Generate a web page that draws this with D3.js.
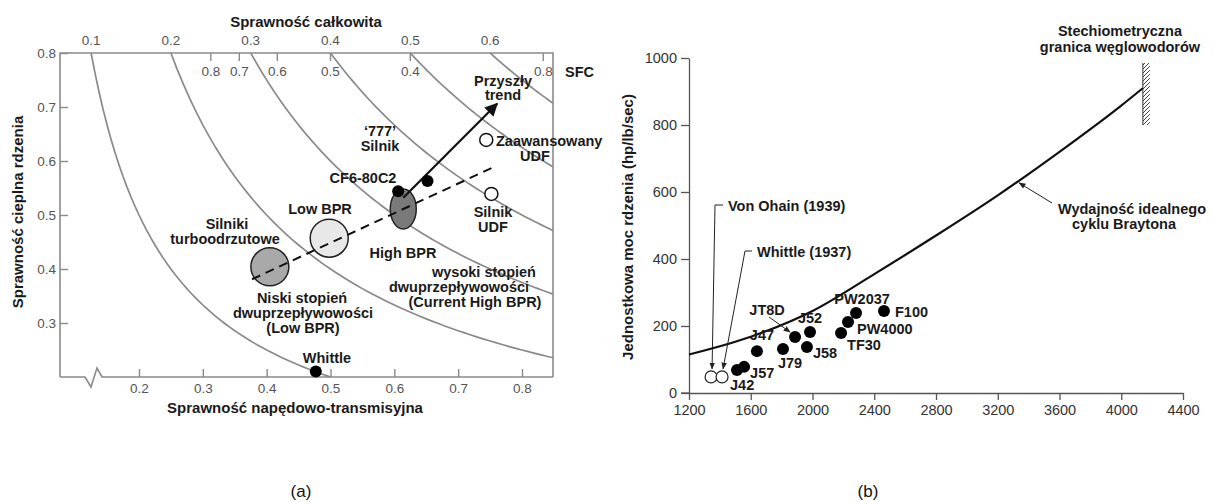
<!DOCTYPE html>
<html>
<head>
<meta charset="utf-8">
<script src="https://cdn.jsdelivr.net/npm/d3@7"></script>
<style>
  body { margin: 0; background: #fff; }
  text { font-family: "Liberation Sans", Arial, Helvetica, sans-serif; }
</style>
</head>
<body>
<div id="chart"></div>
<script>
// ---------- panel (a) data ----------
var overallEff = [0.1, 0.2, 0.3, 0.4, 0.5, 0.6];
var sfcValues = [0.8, 0.7, 0.6, 0.5, 0.4, 0.3];
var sfcLabels = ["0.8", "0.7", "0.6", "0.5", "0.4", "0.8"];
var propTicks = [0.2, 0.3, 0.4, 0.5, 0.6, 0.7, 0.8];
var thermTicks = [0.3, 0.4, 0.5, 0.6, 0.7, 0.8];

var groupNames = ["turbo", "low", "high"];
var groupProp = [0.405, 0.498, 0.614];
var groupTherm = [0.404, 0.457, 0.511];

var pointNames = ["CF6-80C2", "777", "Whittle"];
var pointProp = [0.606, 0.652, 0.477];
var pointTherm = [0.544, 0.563, 0.21];

var udfNames = ["Zaawansowany UDF", "Silnik UDF"];
var udfProp = [0.744, 0.752];
var udfTherm = [0.639, 0.539];

var trendProp = [0.377, 0.756];
var trendTherm = [0.381, 0.589];
var futureProp = [0.614, 0.761];
var futureTherm = [0.532, 0.706];

// ---------- panel (b) data ----------
var engines = ["J42", "J57", "J47", "J79", "JT8D", "J52", "J58", "TF30", "PW4000", "PW2037", "F100"];
var coreTemp = [1511, 1557, 1640, 1809, 1887, 1984, 1964, 2185, 2230, 2282, 2463];
var corePower = [69, 78, 125, 131, 167, 182, 137, 179, 212, 239, 245];

var earlyEngines = ["Von Ohain (1939)", "Whittle (1937)"];
var earlyTemp = [1343, 1414];
var earlyPower = [48, 48];

var braytonTemp = [1200, 1600, 2000, 2400, 2800, 3200, 3600, 4000, 4140];
var braytonPower = [115, 168, 245, 355, 470, 590, 720, 858, 910];

var stoichTemp = 4140;
var stoichPower = [800, 985];

var xTicksB = [1200, 1600, 2000, 2400, 2800, 3200, 3600, 4000, 4400];
var yTicksB = [0, 200, 400, 600, 800, 1000];

// ---------- svg ----------
var svg = d3.select("#chart").append("svg")
  .attr("width", 1213)
  .attr("height", 502);

var defs = svg.append("defs");
defs.append("marker").attr("id", "arrowBig")
  .attr("viewBox", "0 0 10 10").attr("refX", 9).attr("refY", 5)
  .attr("markerUnits", "userSpaceOnUse").attr("markerWidth", 13).attr("markerHeight", 13)
  .attr("orient", "auto")
  .append("path").attr("d", "M0,0 L10,5 L0,10 z").attr("fill", "#111");
defs.append("marker").attr("id", "arrowThin")
  .attr("viewBox", "0 0 10 10").attr("refX", 9).attr("refY", 5)
  .attr("markerUnits", "userSpaceOnUse").attr("markerWidth", 7).attr("markerHeight", 7)
  .attr("orient", "auto")
  .append("path").attr("d", "M0,1 L10,5 L0,9 z").attr("fill", "#222");
var hatch = defs.append("pattern").attr("id", "hatch")
  .attr("patternUnits", "userSpaceOnUse").attr("width", 4).attr("height", 4);
hatch.append("path").attr("d", "M-1,1 l2,-2 M0,4 l4,-4 M3,5 l2,-2")
  .attr("stroke", "#333").attr("stroke-width", 0.9);

// ================= panel (a) =================
var xA = d3.scaleLinear().domain([0.2, 0.8]).range([139, 522]);
var yA = d3.scaleLinear().domain([0.2, 0.8]).range([377, 53]);
var leftX = 60, rightX = 553;

var gA = svg.append("g");

// iso lines of overall efficiency (thermal x propulsive = const)
var xMaxA = xA.invert(rightX);
var isoLine = d3.line().x(d => xA(d[0])).y(d => yA(d[1]));
overallEff.forEach(function(c) {
  var x0 = c / 0.8, x1 = Math.min(xMaxA, c / 0.2);
  var pts = d3.range(0, 61).map(function(i) {
    var x = x0 + (x1 - x0) * i / 60;
    return [x, c / x];
  });
  gA.append("path").attr("d", isoLine(pts))
    .attr("fill", "none").attr("stroke", "#8a8a8a").attr("stroke-width", 1.7);
  gA.append("text").attr("x", xA(x0)).attr("y", 45)
    .attr("text-anchor", "middle").attr("font-size", 13.5).attr("fill", "#555")
    .text(c.toFixed(1));
});

// frame
gA.append("path")
  .attr("d", `M${leftX},${yA(0.2)} V${yA(0.8)} H${rightX} V${yA(0.2)}`)
  .attr("fill", "none").attr("stroke", "#8a8a8a").attr("stroke-width", 1.6);
gA.append("path")
  .attr("d", `M${leftX},${yA(0.2)} H85 L91,387 L97,368 L102,${yA(0.2)} H${rightX}`)
  .attr("fill", "none").attr("stroke", "#8a8a8a").attr("stroke-width", 1.6);

// axes
var axA_left = gA.append("g").attr("transform", `translate(${leftX},0)`)
  .call(d3.axisLeft(yA).tickValues(thermTicks).tickSizeInner(-8).tickSizeOuter(0)
    .tickPadding(4).tickFormat(d3.format(".1f")));
var axA_bottom = gA.append("g").attr("transform", `translate(0,${yA(0.2)})`)
  .call(d3.axisBottom(xA).tickValues(propTicks).tickSizeInner(-8).tickSizeOuter(0)
    .tickPadding(6).tickFormat(d3.format(".1f")));
[axA_left, axA_bottom].forEach(function(ax) {
  ax.select(".domain").remove();
  ax.selectAll("line").attr("stroke", "#8a8a8a").attr("stroke-width", 1.4);
  ax.selectAll("text").attr("font-size", 13.5).attr("fill", "#555")
    .attr("font-family", "Liberation Sans, Arial, sans-serif");
});

// SFC ticks along the top edge
sfcValues.forEach(function(s, i) {
  var px = xA(0.25 / s);
  gA.append("line").attr("x1", px).attr("x2", px).attr("y1", yA(0.8)).attr("y2", yA(0.8) + 8)
    .attr("stroke", "#8a8a8a").attr("stroke-width", 1.4);
  gA.append("text").attr("x", px).attr("y", 76).attr("text-anchor", "middle")
    .attr("font-size", 13.5).attr("fill", "#555").text(sfcLabels[i]);
});
gA.append("text").attr("x", 565).attr("y", 77).attr("font-size", 14.5)
  .attr("font-weight", "bold").attr("fill", "#1a1a1a").text("SFC");

// engine-family bubbles
var bubbleStyle = {
  turbo: { rx: 19, ry: 19, fill: "#a9a9a9" },
  low:   { rx: 19, ry: 19, fill: "#e8e8e8" },
  high:  { rx: 13, ry: 20, fill: "#7a7a7a" }
};
gA.selectAll("ellipse.bubble").data(groupNames).enter().append("ellipse")
  .attr("class", "bubble")
  .attr("cx", (d, i) => xA(groupProp[i]))
  .attr("cy", (d, i) => yA(groupTherm[i]))
  .attr("rx", d => bubbleStyle[d].rx)
  .attr("ry", d => bubbleStyle[d].ry)
  .attr("fill", d => bubbleStyle[d].fill)
  .attr("stroke", "#222").attr("stroke-width", 1.5);

// dashed historical trend
gA.append("line")
  .attr("x1", xA(trendProp[0])).attr("y1", yA(trendTherm[0]))
  .attr("x2", xA(trendProp[1])).attr("y2", yA(trendTherm[1]))
  .attr("stroke", "#111").attr("stroke-width", 2).attr("stroke-dasharray", "9,6");

// future trend arrow
gA.append("line")
  .attr("x1", xA(futureProp[0])).attr("y1", yA(futureTherm[0]))
  .attr("x2", xA(futureProp[1])).attr("y2", yA(futureTherm[1]))
  .attr("stroke", "#111").attr("stroke-width", 2.2).attr("marker-end", "url(#arrowBig)");

// engines
gA.selectAll("circle.pt").data(pointNames).enter().append("circle")
  .attr("class", "pt")
  .attr("cx", (d, i) => xA(pointProp[i]))
  .attr("cy", (d, i) => yA(pointTherm[i]))
  .attr("r", 6).attr("fill", "#000");
gA.selectAll("circle.udf").data(udfNames).enter().append("circle")
  .attr("class", "udf")
  .attr("cx", (d, i) => xA(udfProp[i]))
  .attr("cy", (d, i) => yA(udfTherm[i]))
  .attr("r", 6.5).attr("fill", "#fff").attr("stroke", "#111").attr("stroke-width", 1.5);

// labels of panel (a): [text, x, y, anchor]
var labelsA = [
  ["Przyszły", 503, 86, "middle"], ["trend", 503, 100, "middle"],
  ["\u2018777\u2019", 380, 136, "middle"], ["Silnik", 380, 151, "middle"],
  ["CF6-80C2", 363, 183, "middle"],
  ["Zaawansowany", 496, 146, "start"], ["UDF", 535, 161, "middle"],
  ["Silnik", 493, 217, "middle"], ["UDF", 493, 232, "middle"],
  ["Low BPR", 320, 214, "middle"],
  ["High BPR", 403, 258, "middle"],
  ["wysoki stopień", 484, 277, "middle"],
  ["dwuprzepływowości", 459, 292, "middle"],
  ["(Current High BPR)", 475, 307, "middle"],
  ["Silniki", 227, 229, "middle"], ["turboodrzutowe", 225, 244, "middle"],
  ["Niski stopień", 302, 303, "middle"],
  ["dwuprzepływowości", 303, 318, "middle"],
  ["(Low BPR)", 303, 333, "middle"],
  ["Whittle", 327, 363, "middle"]
];
gA.selectAll("text.lab").data(labelsA).enter().append("text")
  .attr("class", "lab")
  .attr("x", d => d[1]).attr("y", d => d[2]).attr("text-anchor", d => d[3])
  .attr("font-size", 14.5).attr("font-weight", "bold").attr("fill", "#1a1a1a")
  .text(d => d[0]);

// titles
gA.append("text").attr("x", 306).attr("y", 27).attr("text-anchor", "middle")
  .attr("font-size", 15).attr("font-weight", "bold").attr("fill", "#1a1a1a")
  .text("Sprawność całkowita");
gA.append("text").attr("x", 295).attr("y", 413).attr("text-anchor", "middle")
  .attr("font-size", 15).attr("font-weight", "bold").attr("fill", "#1a1a1a")
  .text("Sprawność napędowo-transmisyjna");
gA.append("text").attr("transform", "translate(23,212) rotate(-90)")
  .attr("text-anchor", "middle")
  .attr("font-size", 15).attr("font-weight", "bold").attr("fill", "#1a1a1a")
  .text("Sprawność cieplna rdzenia");

// ================= panel (b) =================
var xB = d3.scaleLinear().domain([1200, 4400]).range([689, 1183]);
var yB = d3.scaleLinear().domain([0, 1000]).range([393, 58]);
var gB = svg.append("g");

var axB_left = gB.append("g").attr("transform", `translate(${xB(1200)},0)`)
  .call(d3.axisLeft(yB).tickValues(yTicksB).tickSizeInner(8).tickSizeOuter(0)
    .tickPadding(4).tickFormat(d3.format("d")));
var axB_bottom = gB.append("g").attr("transform", `translate(0,${yB(0)})`)
  .call(d3.axisBottom(xB).tickValues(xTicksB).tickSizeInner(7).tickSizeOuter(0)
    .tickPadding(5).tickFormat(d3.format("d")));
[axB_left, axB_bottom].forEach(function(ax) {
  ax.select(".domain").attr("stroke", "#555").attr("stroke-width", 1.3);
  ax.selectAll("line").attr("stroke", "#555").attr("stroke-width", 1.3);
  ax.selectAll("text").attr("font-size", 14.5).attr("fill", "#333")
    .attr("font-family", "Liberation Sans, Arial, sans-serif");
});
// x axis also runs under the zero tick
gB.append("line").attr("x1", xB(1200) - 8).attr("x2", xB(1200))
  .attr("y1", yB(0)).attr("y2", yB(0)).attr("stroke", "#555").attr("stroke-width", 1.3);

// ideal Brayton cycle curve
var braytonLine = d3.line().curve(d3.curveMonotoneX)
  .x(d => xB(d[0])).y(d => yB(d[1]));
gB.append("path")
  .attr("d", braytonLine(braytonTemp.map((t, i) => [t, braytonPower[i]])))
  .attr("fill", "none").attr("stroke", "#111").attr("stroke-width", 2.2);

// stoichiometric limit wall
gB.append("rect")
  .attr("x", xB(stoichTemp)).attr("y", yB(stoichPower[1]))
  .attr("width", 7).attr("height", yB(stoichPower[0]) - yB(stoichPower[1]))
  .attr("fill", "url(#hatch)");
gB.append("line")
  .attr("x1", xB(stoichTemp)).attr("x2", xB(stoichTemp))
  .attr("y1", yB(stoichPower[1])).attr("y2", yB(stoichPower[0]))
  .attr("stroke", "#333").attr("stroke-width", 1);

// early engines (open) and production engines (filled)
gB.selectAll("circle.early").data(earlyEngines).enter().append("circle")
  .attr("class", "early")
  .attr("cx", (d, i) => xB(earlyTemp[i]))
  .attr("cy", (d, i) => yB(earlyPower[i]))
  .attr("r", 6).attr("fill", "#fff").attr("stroke", "#222").attr("stroke-width", 1.2);
gB.selectAll("circle.eng").data(engines).enter().append("circle")
  .attr("class", "eng")
  .attr("cx", (d, i) => xB(coreTemp[i]))
  .attr("cy", (d, i) => yB(corePower[i]))
  .attr("r", 6).attr("fill", "#000");

// label offsets from each marker: [dx, dy, anchor]
var engineLabelPos = {
  "J42": [-7, 20, "start"], "J57": [6, 11, "start"], "J47": [5, -11, "middle"],
  "J79": [7, 19, "middle"], "JT8D": [-28, -22, "middle"], "J52": [0, -9, "middle"],
  "J58": [6, 11, "start"], "TF30": [6, 17, "start"], "PW4000": [9, 12, "start"],
  "PW2037": [6, -9, "middle"], "F100": [11, 6, "start"]
};
gB.selectAll("text.eng").data(engines).enter().append("text")
  .attr("class", "eng")
  .attr("x", (d, i) => xB(coreTemp[i]) + engineLabelPos[d][0])
  .attr("y", (d, i) => yB(corePower[i]) + engineLabelPos[d][1])
  .attr("text-anchor", d => engineLabelPos[d][2])
  .attr("font-size", 14.5).attr("font-weight", "bold").attr("fill", "#1a1a1a")
  .text(d => d);

// JT8D leader
var jt = engines.indexOf("JT8D");
gB.append("line")
  .attr("x1", xB(coreTemp[jt]) - 26).attr("y1", yB(corePower[jt]) - 20)
  .attr("x2", xB(coreTemp[jt]) - 5).attr("y2", yB(corePower[jt]) - 5)
  .attr("stroke", "#222").attr("stroke-width", 1).attr("marker-end", "url(#arrowThin)");

// early engine labels with bracket leaders
var earlyLabelPos = [[728, 211, 715], [757, 257, 745]];
earlyEngines.forEach(function(name, i) {
  var p = earlyLabelPos[i];
  var cx = xB(earlyTemp[i]), cy = yB(earlyPower[i]);
  gB.append("text").attr("x", p[0]).attr("y", p[1])
    .attr("font-size", 14.5).attr("font-weight", "bold").attr("fill", "#1a1a1a").text(name);
  gB.append("path")
    .attr("d", `M${p[0] - 5},${p[1] - 6} H${p[2]} L${cx + 1},${cy - 8}`)
    .attr("fill", "none").attr("stroke", "#222").attr("stroke-width", 1)
    .attr("marker-end", "url(#arrowThin)");
});

// Brayton label and leader
gB.append("line")
  .attr("x1", 1052).attr("y1", 203)
  .attr("x2", xB(3332) + 1).attr("y2", yB(630) + 1)
  .attr("stroke", "#222").attr("stroke-width", 1).attr("marker-end", "url(#arrowThin)");
gB.append("text").attr("x", 1132).attr("y", 214).attr("text-anchor", "middle")
  .attr("font-size", 14.5).attr("font-weight", "bold").attr("fill", "#1a1a1a")
  .text("Wydajność idealnego");
gB.append("text").attr("x", 1124).attr("y", 229).attr("text-anchor", "middle")
  .attr("font-size", 14.5).attr("font-weight", "bold").attr("fill", "#1a1a1a")
  .text("cyklu Braytona");

gB.append("text").attr("x", 1120).attr("y", 36).attr("text-anchor", "middle")
  .attr("font-size", 14.5).attr("font-weight", "bold").attr("fill", "#1a1a1a")
  .text("Stechiometryczna");
gB.append("text").attr("x", 1120).attr("y", 52).attr("text-anchor", "middle")
  .attr("font-size", 14.5).attr("font-weight", "bold").attr("fill", "#1a1a1a")
  .text("granica węglowodorów");

gB.append("text").attr("transform", "translate(633,227) rotate(-90)")
  .attr("text-anchor", "middle")
  .attr("font-size", 15).attr("font-weight", "bold").attr("fill", "#1a1a1a")
  .text("Jednostkowa moc rdzenia (hp/lb/sec)");

// captions
svg.append("text").attr("x", 301).attr("y", 497).attr("text-anchor", "middle")
  .attr("font-family", "Liberation Serif, Times New Roman, serif")
  .attr("font-size", 17).attr("fill", "#111").text("(a)");
svg.append("text").attr("x", 868).attr("y", 497).attr("text-anchor", "middle")
  .attr("font-family", "Liberation Serif, Times New Roman, serif")
  .attr("font-size", 17).attr("fill", "#111").text("(b)");
</script>
</body>
</html>
